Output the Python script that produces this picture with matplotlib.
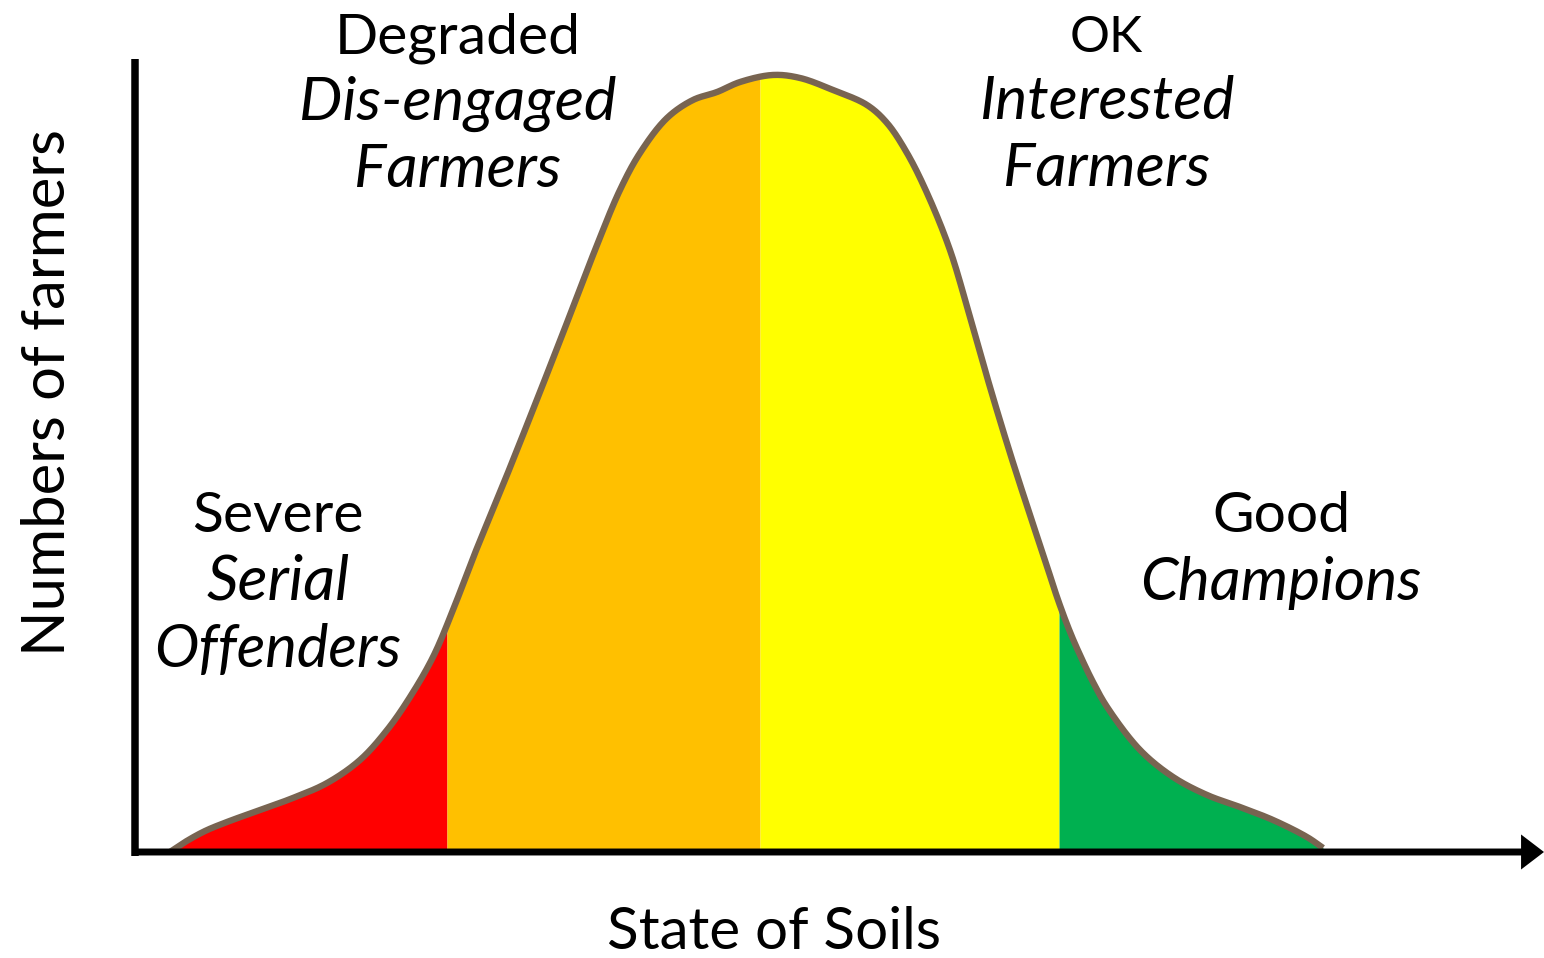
import numpy as np
import matplotlib
matplotlib.use("Agg")
import matplotlib.pyplot as plt

# ---------------- data ----------------
# State of soils (x, 0-100) and number of farmers (y, 0-100) along the curve
soil_state = [2.48, 3.55, 4.97, 6.53, 8.87, 11.21, 13.63, 15.97, 17.89, 19.52,
              21.15, 22.57, 23.99, 26.40, 28.74, 30.87, 32.79, 34.42, 35.84, 37.76,
              39.60, 41.31, 42.94, 45.28, 47.20, 49.54, 51.95, 53.37, 54.79, 56.21,
              57.84, 59.26, 60.68, 62.10, 63.52, 64.58, 65.51, 66.36, 67.07, 67.99,
              68.99, 71.33, 73.67, 76.08, 78.42, 80.77, 83.18, 84.32]
farmers = [0.00, 1.26, 2.65, 3.79, 5.30, 6.82, 8.71, 11.62, 15.40, 19.57,
           24.62, 30.56, 37.12, 47.60, 58.08, 67.80, 76.64, 83.59, 88.26, 92.68,
           94.95, 95.96, 97.22, 98.11, 97.73, 96.21, 94.32, 92.05, 88.26, 83.21,
           76.01, 67.55, 58.71, 50.38, 42.55, 36.87, 31.82, 27.78, 24.87, 21.46,
           18.31, 12.88, 9.47, 7.20, 5.68, 4.04, 1.89, 0.51]

# class boundaries along the soil axis
boundaries = [22.14, 44.36, 65.58]
class_colors = ["#FF0000", "#FFC000", "#FFFF00", "#00B050"]

soil_classes = ["Severe", "Degraded", "OK", "Good"]
farmer_types = [["Serial", "Offenders"], ["Dis-engaged", "Farmers"],
                ["Interested", "Farmers"], ["Champions"]]
x_label = "State of Soils"
y_label = "Numbers of farmers"

# ---------------- figure ----------------
W, H = 1544, 958
FONT = ["Lato", "DejaVu Sans"]
plt.rcParams["font.family"] = FONT
fig = plt.figure(figsize=(W / 100, H / 100), dpi=100)
AX_L, AX_B, AX_W, AX_H = 135 / W, (H - 852) / H, (W - 135) / W, (852 - 60) / H
ax = fig.add_axes([AX_L, AX_B, AX_W, AX_H])
ax.set_xlim(0, 100)
ax.set_ylim(0, 100)
ax.axis("off")

# aspect of one data unit (y relative to x) for a smooth, even spline
Y_SCALE = (AX_H * H) / (AX_W * W)


def centripetal_spline(xs, ys, n=30, alpha=0.5):
    p = np.column_stack([xs, np.asarray(ys) * Y_SCALE]).astype(float)
    p = np.vstack([p[0] * 2 - p[1], p, p[-1] * 2 - p[-2]])
    out = []
    for i in range(1, len(p) - 2):
        P0, P1, P2, P3 = p[i - 1], p[i], p[i + 1], p[i + 2]
        t0 = 0.0
        t1 = t0 + np.linalg.norm(P1 - P0) ** alpha
        t2 = t1 + np.linalg.norm(P2 - P1) ** alpha
        t3 = t2 + np.linalg.norm(P3 - P2) ** alpha
        t = np.linspace(t1, t2, n, endpoint=False)[:, None]
        A1 = (t1 - t) / (t1 - t0) * P0 + (t - t0) / (t1 - t0) * P1
        A2 = (t2 - t) / (t2 - t1) * P1 + (t - t1) / (t2 - t1) * P2
        A3 = (t3 - t) / (t3 - t2) * P2 + (t - t2) / (t3 - t2) * P3
        B1 = (t2 - t) / (t2 - t0) * A1 + (t - t0) / (t2 - t0) * A2
        B2 = (t3 - t) / (t3 - t1) * A2 + (t - t1) / (t3 - t1) * A3
        C = (t2 - t) / (t2 - t1) * B1 + (t - t1) / (t2 - t1) * B2
        out.append(C)
    out.append(p[-2][None, :])
    out = np.vstack(out)
    return out[:, 0], out[:, 1] / Y_SCALE


cx, cy = centripetal_spline(soil_state, farmers)
order = np.argsort(cx)
sx, sy = cx[order], cy[order]

edges = [cx[0]] + boundaries + [cx[-1]]
for i, col in enumerate(class_colors):
    xs = np.linspace(edges[i], edges[i + 1], 400)
    ys = np.interp(xs, sx, sy)
    ax.fill_between(xs, 0, ys, color=col, lw=0, zorder=1)

ax.plot(cx, cy, color="#786451", lw=4.6, solid_capstyle="butt",
        solid_joinstyle="round", zorder=3, clip_on=False)

# axes drawn as thick lines with an arrow on the horizontal one
ax.plot([0, 0], [-0.45, 100.1], color="black", lw=5.4, solid_capstyle="butt",
        zorder=4, clip_on=False)
ax.annotate("", xy=(100, 0), xytext=(0.05, 0), xycoords="data",
            arrowprops=dict(arrowstyle="-|>,head_length=0.55,head_width=0.42",
                            mutation_scale=18, lw=5.0, color="black",
                            shrinkA=0, shrinkB=0, joinstyle="miter",
                            capstyle="butt"),
            zorder=4, annotation_clip=False)

renderer = fig.canvas.get_renderer()


def fit_text(s, px, py, width, style="normal", rotation=0, va="baseline"):
    t = fig.text(px / W, 1 - py / H, s, ha="center", va=va, fontsize=40,
                 style=style, rotation=rotation, color="black")
    bb = t.get_window_extent(renderer)
    w = bb.height if rotation else bb.width
    t.set_fontsize(40 * width / w)
    return t


# class titles (regular) and farmer types (italic)
fit_text(soil_classes[0], 278, 532, 171)
fit_text(farmer_types[0][0], 278, 600, 143, "italic")
fit_text(farmer_types[0][1], 278, 667, 247, "italic")

fit_text(soil_classes[1], 458, 53, 245)
fit_text(farmer_types[1][0], 458, 120, 317, "italic")
fit_text(farmer_types[1][1], 458, 187, 207, "italic")

fit_text(soil_classes[2], 1106, 52, 73)
fit_text(farmer_types[2][0], 1107, 119, 255, "italic")
fit_text(farmer_types[2][1], 1107, 186, 207, "italic")

fit_text(soil_classes[3], 1281, 532, 138)
fit_text(farmer_types[3][0], 1281, 600, 281, "italic")

fit_text(x_label, 774, 949, 334)
fit_text(y_label, 48, 393, 527, rotation=90, va="center")

fig.savefig("out.png", dpi=100)
